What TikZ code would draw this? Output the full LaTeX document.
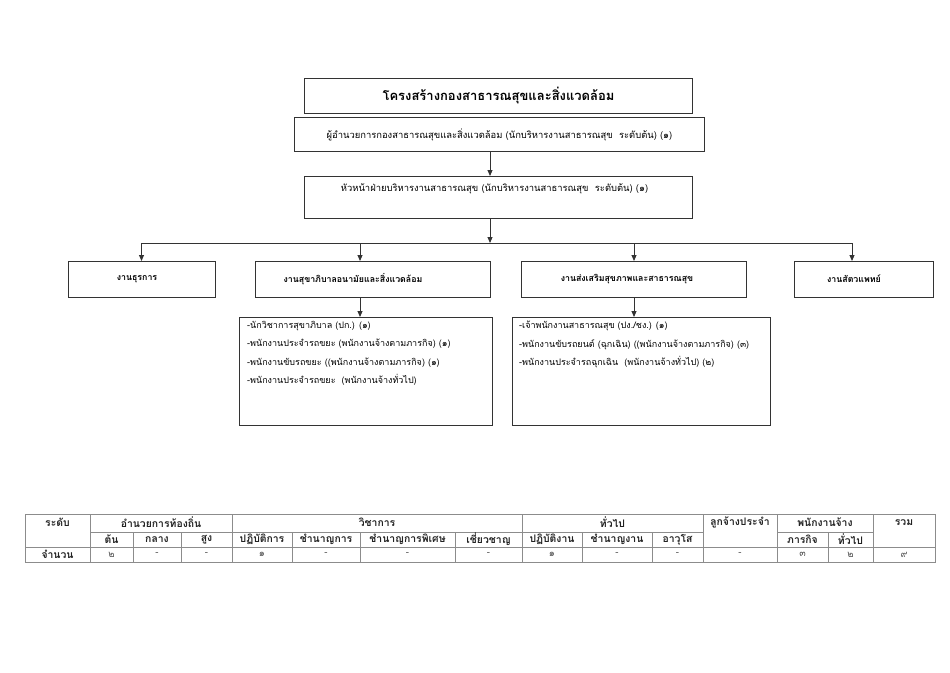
\documentclass[tikz,border=0pt]{standalone}
\usepackage{fontspec}
\setmainfont[Script=Thai]{Loma}
\usetikzlibrary{arrows.meta,calc}
\definecolor{boxline}{HTML}{333333}
\definecolor{tabline}{HTML}{8C8C8C}
\definecolor{tabtext}{HTML}{222222}
\definecolor{datatext}{HTML}{555555}
\begin{document}
\begin{tikzpicture}[x=1pt,y=-1pt,
  box/.style={draw=boxline,line width=1pt,inner sep=0pt,anchor=north west},
  arr/.style={draw=boxline,line width=0.9pt,-{Triangle[length=6pt,width=5pt]}},
  conn/.style={draw=boxline,line width=0.9pt},
  hd/.style={font=\bfseries\fontsize{8.8}{10}\selectfont,text=black},
  body/.style={font=\fontsize{9.4}{10}\selectfont,text=black},
  th/.style={font=\bfseries\fontsize{10.4}{10}\selectfont,text=tabtext,inner sep=0pt},
  td/.style={font=\fontsize{9.5}{10}\selectfont,text=datatext,inner sep=0pt},
  tl/.style={draw=tabline,line width=0.8pt}]
\useasboundingbox[fill=white] (0,0) rectangle (950,672);

% top boxes
\node[box,minimum width=388pt,minimum height=35pt] (title) at (304,78) {};
\node[font=\bfseries\fontsize{13}{14}\selectfont] (titletext) at (title.center) {โครงสร้างกองสาธารณสุขและสิ่งแวดล้อม};
\node[box,minimum width=410pt,minimum height=34pt] (dir) at (294,117) {};
\node[body] (dirtext) at (dir.center) {ผู้อำนวยการกองสาธารณสุขและสิ่งแวดล้อม (นักบริหารงานสาธารณสุข\ \ ระดับต้น) (๑)};
\node[box,minimum width=388pt,minimum height=42pt] (head) at (304,176) {};
\node[body] (headtext) at ($(head.north)+(-4,13)$) {หัวหน้าฝ่ายบริหารงานสาธารณสุข (นักบริหารงานสาธารณสุข\ \ ระดับต้น) (๑)};

\coordinate (dirout) at (490,0);
\draw[arr] (dirout |- dir.south) -- (dirout |- head.north);

% bus
\coordinate (busL) at (141.5,243);
\coordinate (busR) at (852,243);
\coordinate (busM) at (490,243);
\coordinate (jb) at (360,243);
\coordinate (jc) at (634,243);
\draw[arr] (busM |- head.south) -- (busM);
\draw[conn] (busL) -- (busR);

% level boxes
\node[box,minimum width=147pt,minimum height=36pt] (ga) at (68,261) {};
\node[hd] (gat) at (137,279) {งานธุรการ};
\node[box,minimum width=235pt,minimum height=36pt] (gb) at (255,261) {};
\node[hd] (gbt) at (353,279) {งานสุขาภิบาลอนามัยและสิ่งแวดล้อม};
\node[box,minimum width=225pt,minimum height=36pt] (gc) at (521,261) {};
\node[hd] (gct) at (627,279) {งานส่งเสริมสุขภาพและสาธารณสุข};
\node[box,minimum width=139pt,minimum height=36pt] (gd) at (794,261) {};
\node[hd] (gdt) at (854,279) {งานสัตวแพทย์};

\draw[arr] (busL) -- (busL |- ga.north);
\draw[arr] (jb) -- (jb |- gb.north);
\draw[arr] (jc) -- (jc |- gc.north);
\draw[arr] (busR) -- (busR |- gd.north);

% detail boxes
\node[box,minimum width=253pt,minimum height=108pt] (db) at (239,317) {};
\node[anchor=north west,align=left,inner sep=0pt,font=\fontsize{9}{18.3}\selectfont] (dbtext) at (247,321) {-นักวิชาการสุขาภิบาล (ปก.) (๑)\\-พนักงานประจำรถขยะ (พนักงานจ้างตามภารกิจ) (๑)\\-พนักงานขับรถขยะ ((พนักงานจ้างตามภารกิจ) (๑)\\-พนักงานประจำรถขยะ\ \ (พนักงานจ้างทั่วไป)};
\node[box,minimum width=258pt,minimum height=108pt] (dc) at (512,317) {};
\node[anchor=north west,align=left,inner sep=0pt,font=\fontsize{9}{18.3}\selectfont] (dctext) at (519,321) {-เจ้าพนักงานสาธารณสุข (ปง./ชง.) (๑)\\-พนักงานขับรถยนต์ (ฉุกเฉิน) ((พนักงานจ้างตามภารกิจ) (๓)\\-พนักงานประจำรถฉุกเฉิน\ \ (พนักงานจ้างทั่วไป) (๒)};

\draw[arr] (jb |- gb.south) -- (jb |- db.north);
\draw[arr] (jc |- gc.south) -- (jc |- dc.north);

% table
\def\ta{514}\def\tb{532}\def\tc{547}\def\td{562}
\draw[tl] (25,\ta) rectangle (935,\td);
\draw[tl] (90,\tb) -- (703,\tb);
\draw[tl] (777,\tb) -- (873,\tb);
\draw[tl] (25,\tc) -- (935,\tc);
\foreach \x in {90,232,522,703,777,873} \draw[tl] (\x,\ta) -- (\x,\td);
\foreach \x in {133,181,292,360,455,582,652,828} \draw[tl] (\x,\tb) -- (\x,\td);

\def\ya{522.5}\def\yb{539.5}\def\yc{554.5}
\node[th] (t1) at (57.5,\ya) {ระดับ};
\node[th] (t2) at (161,\ya) {อำนวยการท้องถิ่น};
\node[th] (t3) at (377,\ya) {วิชาการ};
\node[th] (t4) at (612.5,\ya) {ทั่วไป};
\node[th] (t5) at (740,\ya) {ลูกจ้างประจำ};
\node[th] (t6) at (825,\ya) {พนักงานจ้าง};
\node[th] (t7) at (904,\ya) {รวม};

\node[th] at (111.5,\yb) {ต้น};
\node[th] at (157,\yb) {กลาง};
\node[th] at (206.5,\yb) {สูง};
\node[th] at (262,\yb) {ปฏิบัติการ};
\node[th] at (326,\yb) {ชำนาญการ};
\node[th] at (407.5,\yb) {ชำนาญการพิเศษ};
\node[th] at (488.5,\yb) {เชี่ยวชาญ};
\node[th] at (552,\yb) {ปฏิบัติงาน};
\node[th] at (617,\yb) {ชำนาญงาน};
\node[th] at (677.5,\yb) {อาวุโส};
\node[th] at (802.5,\yb) {ภารกิจ};
\node[th] at (850.5,\yb) {ทั่วไป};

\node[th] at (57.5,\yc) {จำนวน};
\node[td] at (111.5,\yc) {๒};
\node[td] at (157,\yc) {-};
\node[td] at (206.5,\yc) {-};
\node[td] at (262,\yc) {๑};
\node[td] at (326,\yc) {-};
\node[td] at (407.5,\yc) {-};
\node[td] at (488.5,\yc) {-};
\node[td] at (552,\yc) {๑};
\node[td] at (617,\yc) {-};
\node[td] at (677.5,\yc) {-};
\node[td] at (740,\yc) {-};
\node[td] at (802.5,\yc) {๓};
\node[td] at (850.5,\yc) {๒};
\node[td] at (904,\yc) {๙};
\end{tikzpicture}
\end{document}
